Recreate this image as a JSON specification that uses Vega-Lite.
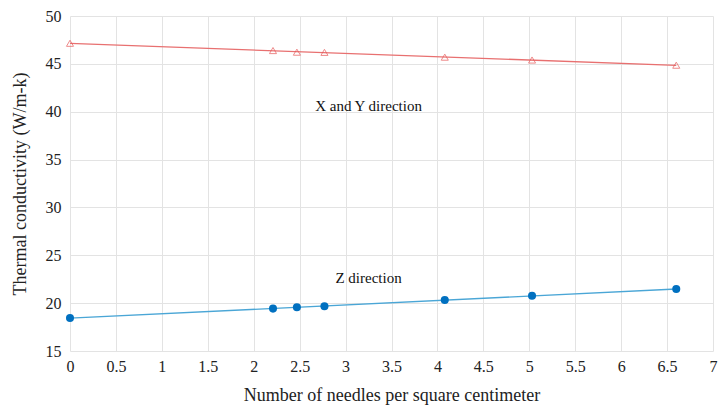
{
  "$schema": "https://vega.github.io/schema/vega-lite/v6.json",
  "width": 643,
  "height": 335,
  "autosize": {"type": "none"},
  "padding": {"left": 70, "top": 16, "right": 11, "bottom": 65},
  "background": "white",
  "config": {
    "view": {"stroke": null},
    "font": "Liberation Serif",
    "axis": {
      "titleFont": "Liberation Serif",
      "titleFontSize": 18,
      "titleFontWeight": "normal",
      "titleColor": "#222",
      "gridColor": "#e3e3e3",
      "domain": false,
      "ticks": false,
      "labelOverlap": false,
      "labelFlush": false
    }
  },
  "datasets": {
    "pts": [
      {"n": 0, "k": 47.15, "dir": "XY"},
      {"n": 2.21, "k": 46.39, "dir": "XY"},
      {"n": 2.47, "k": 46.22, "dir": "XY"},
      {"n": 2.77, "k": 46.2, "dir": "XY"},
      {"n": 4.08, "k": 45.7, "dir": "XY"},
      {"n": 5.03, "k": 45.4, "dir": "XY"},
      {"n": 6.6, "k": 44.86, "dir": "XY"},
      {"n": 0, "k": 18.45, "dir": "Z"},
      {"n": 2.21, "k": 19.43, "dir": "Z"},
      {"n": 2.47, "k": 19.57, "dir": "Z"},
      {"n": 2.77, "k": 19.68, "dir": "Z"},
      {"n": 4.08, "k": 20.32, "dir": "Z"},
      {"n": 5.03, "k": 20.77, "dir": "Z"},
      {"n": 6.6, "k": 21.48, "dir": "Z"}
    ],
    "labels": [
      {"n": 3.25, "k": 40.6, "t": "X and Y direction"},
      {"n": 3.25, "k": 22.6, "t": "Z direction"}
    ]
  },
  "encoding": {
    "x": {"field": "n", "type": "quantitative", "scale": {"domain": [0, 7], "nice": false, "zero": false},
      "axis": {"title": "Number of needles per square centimeter", "values": [0,0.5,1,1.5,2,2.5,3,3.5,4,4.5,5,5.5,6,6.5,7], "format": "~g", "labelPadding": 7, "titlePadding": 12,
        "labelFont": "Liberation Serif", "labelFontSize": 16, "labelColor": "#222"}},
    "y": {"field": "k", "type": "quantitative", "scale": {"domain": [15, 50], "nice": false, "zero": false},
      "axis": {"title": "Thermal conductivity (W/m-k)", "values": [15,20,25,30,35,40,45,50], "format": "~g", "labelPadding": 9, "titlePadding": 16,
        "labelFont": "Liberation Serif", "labelFontSize": 16, "labelColor": "#222"}}
  },
  "layer": [
    {
      "data": {"name": "pts"},
      "transform": [{"filter": "datum.dir === 'XY'"}, {"regression": "k", "on": "n"}],
      "mark": {"type": "line", "color": "#e87070", "strokeWidth": 1.3}
    },
    {
      "data": {"name": "pts"},
      "transform": [{"filter": "datum.dir === 'Z'"}, {"regression": "k", "on": "n"}],
      "mark": {"type": "line", "color": "#4aa6d6", "strokeWidth": 1.3}
    },
    {
      "data": {"name": "pts"},
      "transform": [{"filter": "datum.dir === 'XY'"}],
      "mark": {"type": "point", "shape": "triangle-up", "filled": false, "color": "#e85a5a", "size": 50, "strokeWidth": 1}
    },
    {
      "data": {"name": "pts"},
      "transform": [{"filter": "datum.dir === 'Z'"}],
      "mark": {"type": "circle", "color": "#0070c0", "size": 65, "opacity": 1}
    },
    {
      "data": {"name": "labels"},
      "mark": {"type": "text", "font": "Liberation Serif", "fontSize": 15, "color": "#111"},
      "encoding": {
        "text": {"field": "t"}
      }
    }
  ]
}
